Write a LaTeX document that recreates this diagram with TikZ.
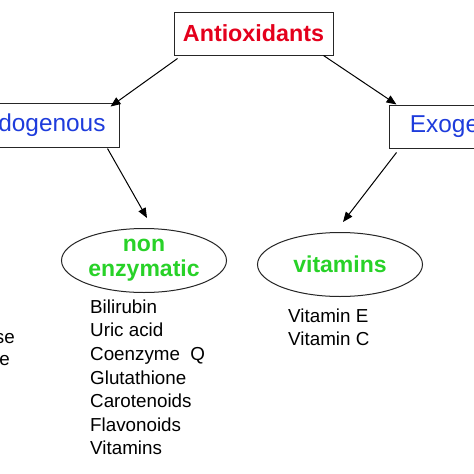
\documentclass[tikz,border=0pt]{standalone}
\usepackage{fontspec}
\setmainfont{Liberation Sans}
\usetikzlibrary{shapes.geometric,arrows.meta,calc}
\definecolor{tred}{RGB}{228,0,28}
\definecolor{tblue}{RGB}{30,60,220}
\definecolor{tgreen}{RGB}{40,210,40}
\tikzset{
  boxnode/.style={draw=black!85, line width=1pt, rectangle, inner sep=0pt},
  ovalnode/.style={draw=black!85, line width=1pt, ellipse, inner sep=0pt,
     minimum width=165pt, minimum height=64pt, text=tgreen,
     font=\fontsize{23}{25}\selectfont\bfseries, align=center},
  listnode/.style={inner sep=0pt, anchor=north west, align=left,
     font=\fontsize{18.8}{23.6}\selectfont},
  arr/.style={line width=1pt, -{Triangle[length=10pt,width=8pt]}}
}
\begin{document}
\begin{tikzpicture}[x=1pt,y=-1pt]
\useasboundingbox (0,0) rectangle (474,474);
\clip (0,0) rectangle (474,474);
\fill[white] (0,0) rectangle (474,474);
\node[boxnode, minimum width=159pt, minimum height=43pt, text=tred,
  font=\fontsize{23.3}{25}\selectfont\bfseries] (anti) at (253.5,33.5) {Antioxidants};
\node[boxnode, minimum width=164pt, minimum height=44pt, text=tblue,
  font=\fontsize{24.4}{26}\selectfont] (endo) at (37,125) {Endogenous};
\node[boxnode, minimum width=164pt, minimum height=43pt, text=tblue,
  font=\fontsize{24.4}{26}\selectfont] (exo) at (471,126.5) {Exogenous};
\node[ovalnode] (nonenz) at (144,260.5) {non\\enzymatic};
\node[ovalnode] (vit) at (340,264.5) {vitamins};
\node[listnode] (nelist) at (90,299.5) {Bilirubin\\Uric acid\\Coenzyme\ \ Q\\Glutathione\\Carotenoids\\Flavonoids\\Vitamins};
\node[listnode] (vlist) at (288,308.5) {Vitamin E\\Vitamin C};
\node[inner sep=0pt, anchor=base east, font=\fontsize{18.8}{23.6}\selectfont] (se) at (15,343) {se};
\node[inner sep=0pt, anchor=base east, font=\fontsize{18.8}{23.6}\selectfont] (e) at (10,365) {e};
\draw[arr] ($(anti.south west)+(4,3)$) -- ($(endo.north east)+(-9,4)$);
\draw[arr] ($(anti.south east)+(-10,0)$) -- ($(exo.north west)+(8,0)$);
\draw[arr] ($(endo.south east)+(-12,1)$) -- ($(nonenz.north)+(3,-10)$);
\draw[arr] ($(exo.south west)+(8,4)$) -- ($(vit.north)+(3,-10)$);
\end{tikzpicture}
\end{document}
